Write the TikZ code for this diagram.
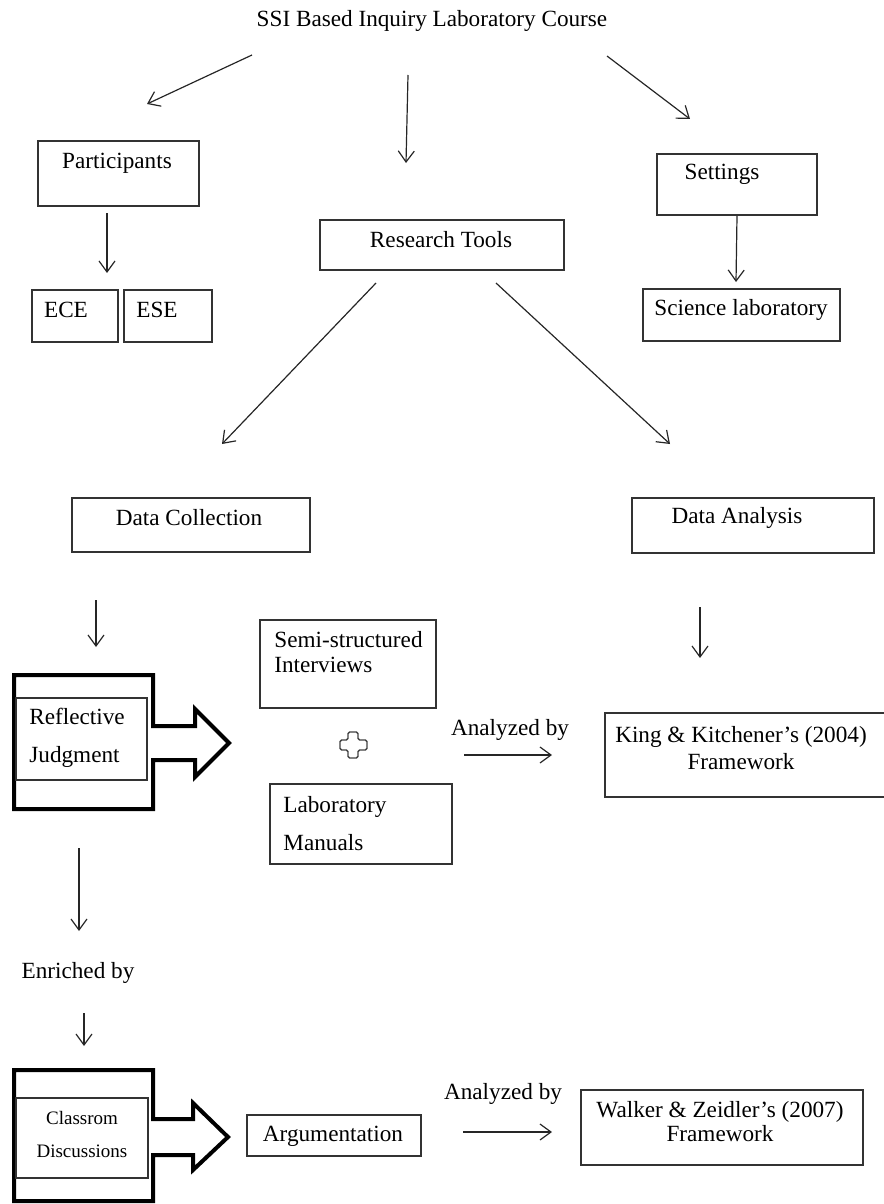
\documentclass[tikz,border=0pt]{standalone}
\usepackage{fontspec}
\setmainfont{Liberation Serif}
\usetikzlibrary{arrows.meta,fit}
\begin{document}
\begin{tikzpicture}[x=0.5pt,y=-0.5pt,
  box/.style={draw=black!80, line width=0.65pt, inner sep=0pt},
  txt/.style={font=\fontsize{11.6}{14}\selectfont, inner sep=0pt},
  arr/.style={-{Straight Barb[length=5.5pt,width=8pt]}, line width=0.6pt, draw=black!85},
  thickshape/.style={line width=2pt, line join=miter, draw=black}]
\useasboundingbox (0,0) rectangle (883,1204);

% title
\node[txt] (title) at (432,21) {SSI Based Inquiry Laboratory Course};

% boxes
\node[box, fit={(38,141)(199,206)}] (part) {};
\node[txt] (partT) at (117,163) {Participants};
\node[box, fit={(32,290)(118,342)}] (ece) {};
\node[txt] (eceT) at (66,310) {ECE};
\node[box, fit={(124,290)(212,342)}] (ese) {};
\node[txt] (eseT) at (157,310) {ESE};
\node[box, fit={(320,220)(564,270)}] (tools) {};
\node[txt] (toolsT) at (441,240) {Research Tools};
\node[box, fit={(657,154)(817,215)}] (set) {};
\node[txt] (setT) at (722,174) {Settings};
\node[box, fit={(643,289)(840,341)}] (lab) {};
\node[txt] (labT) at (741,310) {Science laboratory};
\node[box, fit={(72,498)(310,552)}] (dc) {};
\node[txt] (dcT) at (189,518) {Data Collection};
\node[box, fit={(632,498)(874,553)}] (da) {};
\node[txt] (daT) at (737,518) {Data Analysis};
\node[box, fit={(260,620)(436,708)}] (ssi) {};
\node[txt, anchor=west, align=left, font=\fontsize{11.6}{12.6}\selectfont] (ssiT) at (274,652) {Semi-structured\\Interviews};
\node[box, fit={(270,784)(452,864)}] (man) {};
\node[txt, anchor=west, align=left, font=\fontsize{11.6}{19}\selectfont] (manT) at (283,824) {Laboratory\\Manuals};
\node[box, fit={(605,713)(886,797)}] (king) {};
\node[txt, align=center, font=\fontsize{11.6}{13.5}\selectfont] (kingT) at (741,748) {King \& Kitchener’s (2004)\\Framework};
\node[box, fit={(247,1115)(421,1156)}] (argu) {};
\node[txt] (arguT) at (333,1136) {Argumentation};
\node[box, fit={(581,1090)(863,1165)}] (walk) {};
\node[txt, align=center, font=\fontsize{11.6}{12}\selectfont] (walkT) at (720,1122) {Walker \& Zeidler’s (2007)\\Framework};

% reflective judgment block arrow
\draw[thickshape] (14,675) -- (153,675) -- (153,726) -- (195,726) -- (195,709) -- (229,743)
  -- (195,777) -- (195,760) -- (153,760) -- (153,809) -- (14,809) -- cycle;
\node[box, fit={(16,698)(147,780)}] (refl) {};
\node[txt, anchor=west, align=left, font=\fontsize{11.6}{19}\selectfont] (reflT) at (29,738) {Reflective\\Judgment};

% classroom discussions block arrow
\draw[thickshape] (14,1070) -- (153,1070) -- (153,1119) -- (193,1119) -- (193,1103) -- (228,1137)
  -- (193,1170) -- (193,1155) -- (153,1155) -- (153,1201) -- (14,1201) -- cycle;
\node[box, fit={(16,1098)(148,1178)}] (cls) {};
\node[txt, align=center, font=\fontsize{9.5}{16.5}\selectfont] (clsT) at (82,1134) {Classrom\\Discussions};

% plus sign
\draw[draw=black!75, line width=0.65pt, rounded corners=0.8pt] (348,732) -- (358,732) -- (358,740) -- (367,740) -- (367,750)
  -- (358,750) -- (358,758) -- (348,758) -- (348,750) -- (340,750) -- (340,740) -- (348,740) -- cycle;

% labels
\node[txt] (an1) at (510,730) {Analyzed by};
\node[txt] (an2) at (503,1094) {Analyzed by};
\node[txt] (enr) at (78,973) {Enriched by};

% connector end points
\coordinate (a1s) at (252,55);  \coordinate (a1e) at (147,104);
\coordinate (a2s) at (408,75);  \coordinate (a2e) at (406,163);
\coordinate (a3s) at (607,56);  \coordinate (a3e) at (690,119);
\coordinate (a4s) at (107,213); \coordinate (a4e) at (107,273);
\coordinate (a5s) at (737,216); \coordinate (a5e) at (736,282);
\coordinate (a6s) at (376,283); \coordinate (a6e) at (222,444);
\coordinate (a7s) at (496,283); \coordinate (a7e) at (670,444);
\coordinate (a8s) at (96,600);  \coordinate (a8e) at (96,647);
\coordinate (a9s) at (700,607); \coordinate (a9e) at (700,658);
\coordinate (a10s) at (464,755); \coordinate (a10e) at (552,755);
\coordinate (a11s) at (79,848); \coordinate (a11e) at (79,931);
\coordinate (a12s) at (84,1013); \coordinate (a12e) at (84,1046);
\coordinate (a13s) at (463,1132); \coordinate (a13e) at (552,1132);

\foreach \i in {1,...,13} {\draw[arr] (a\i s) -- (a\i e);}
\end{tikzpicture}
\end{document}
